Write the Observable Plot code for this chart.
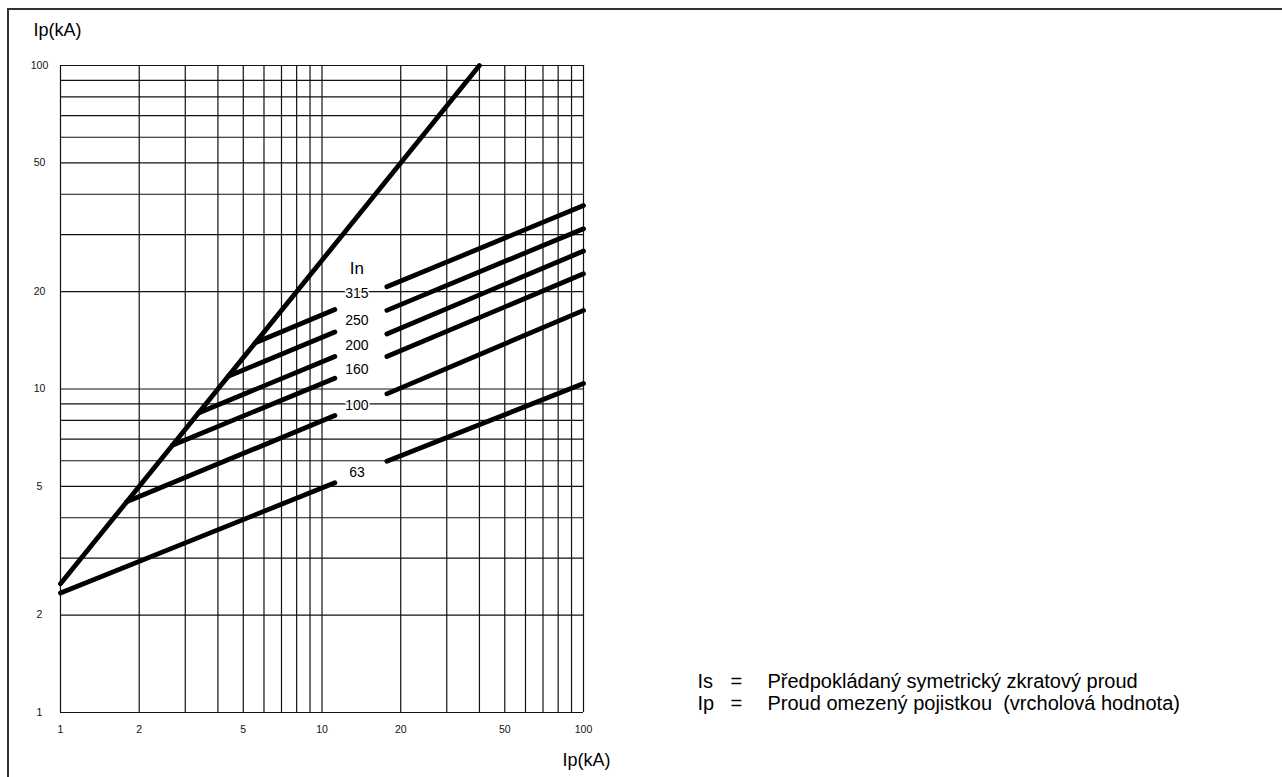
<!DOCTYPE html>
<html>
<head>
<meta charset="utf-8">
<script src="https://cdn.jsdelivr.net/npm/d3@7"></script>
<script src="https://cdn.jsdelivr.net/npm/@observablehq/plot@0.6"></script>
<style>
  html, body { margin: 0; padding: 0; background: #fff; }
  #wrap { position: relative; width: 1282px; height: 777px; overflow: hidden; }
  #border { position: absolute; left: 7px; top: 8px; width: 1290px; height: 790px;
            border-top: 2px solid #333; border-left: 2px solid #333; pointer-events: none; }
</style>
</head>
<body>
<div id="wrap"><div id="border"></div></div>
<script>
// ---- data ----
const ratings   = ["63", "100", "160", "200", "250", "315"];
const startIs   = [1, 1.79, 2.68, 3.37, 4.38, 5.56];
const startIp   = [2.34, 4.48, 6.7, 8.43, 10.95, 13.9];
const gapLeftIs = [11.2, 11.2, 11.2, 11.2, 11.2, 11.2];
const gapLeftIp = [5.13, 8.28, 10.8, 12.6, 15.0, 17.6];
const gapRightIs = [17.7, 17.7, 17.7, 17.7, 17.7, 17.7];
const gapRightIp = [5.98, 9.66, 12.6, 14.8, 17.5, 20.7];
const endIs     = [100, 100, 100, 100, 100, 100];
const endIp     = [10.4, 17.5, 22.7, 26.7, 31.3, 36.9];
const labelIs   = 13.6;
const labelIp   = [5.53, 8.89, 11.5, 13.6, 16.3, 19.7];
const headerIp  = 23.5;
const headerText = "In";

const peakIs = [1, 40];
const peakIp = [2.5, 100];

const gridValues = [1, 2, 3, 4, 5, 6, 7, 8, 9, 10, 20, 30, 40, 50, 60, 70, 80, 90, 100];
const tickValues = [1, 2, 5, 10, 20, 50, 100];
const axisTitle = "Ip(kA)";
const legendSymbols = ["Is", "Ip"];
const legendTexts = ["Předpokládaný symetrický zkratový proud", "Proud omezený pojistkou  (vrcholová hodnota)"];

// ---- build tables ----
const segments = [];
ratings.forEach((r, i) => {
  segments.push({key: r + "a", Is: startIs[i], Ip: startIp[i]});
  segments.push({key: r + "a", Is: gapLeftIs[i], Ip: gapLeftIp[i]});
  segments.push({key: r + "b", Is: gapRightIs[i], Ip: gapRightIp[i]});
  segments.push({key: r + "b", Is: endIs[i], Ip: endIp[i]});
});
const peak = peakIs.map((v, i) => ({Is: v, Ip: peakIp[i]}));
const labels = ratings.map((r, i) => ({Is: labelIs, Ip: labelIp[i], t: r}));
const legend = legendSymbols.map((s, i) => ({s, t: legendTexts[i], row: i}));

const font = "'Liberation Sans', Arial, Helvetica, sans-serif";
const rowDy = [-31, -9];
const legendFont = 20;

const legendMarks = [];
legend.forEach(d => {
  const opts = {frameAnchor: "bottom-right", textAnchor: "start", lineAnchor: "middle", dy: rowDy[d.row], fontSize: legendFont, fill: "#000"};
  legendMarks.push(Plot.text([d], {...opts, text: "s", dx: 114}));
  legendMarks.push(Plot.text([d], {...opts, text: () => "=", dx: 147}));
  legendMarks.push(Plot.text([d], {...opts, text: "t", dx: 184}));
});

const chart = Plot.plot({
  width: 1282,
  height: 777,
  marginLeft: 60,
  marginRight: 699,
  marginTop: 65,
  marginBottom: 65,
  style: {fontFamily: font, background: "transparent", color: "#111"},
  x: {type: "log", domain: [1, 100]},
  y: {type: "log", domain: [1, 100]},
  marks: [
    Plot.ruleX(gridValues, {stroke: "#111", strokeWidth: 1.2}),
    Plot.ruleY(gridValues, {stroke: "#111", strokeWidth: 1.2}),
    Plot.axisX({ticks: tickValues, tickFormat: d => String(d), tickSize: 0, tickPadding: 13, fontSize: 10.5, label: null}),
    Plot.axisY({ticks: tickValues, tickFormat: d => String(d), tickSize: 0, tickPadding: 21, textAnchor: "middle", fontSize: 10.5, label: null}),
    Plot.line(peak, {x: "Is", y: "Ip", stroke: "#000", strokeWidth: 4.8}),
    Plot.line(segments, {x: "Is", y: "Ip", z: "key", stroke: "#000", strokeWidth: 4.8}),
    Plot.text(labels, {x: "Is", y: "Ip", text: "t", fontSize: 14, fill: "#000",
      stroke: "white", strokeWidth: 3}),
    Plot.text([headerText], {x: () => labelIs, y: () => headerIp, text: d => d, fontSize: 17, fill: "#000",
      stroke: "white", strokeWidth: 3}),
    Plot.text([axisTitle], {frameAnchor: "top-left", text: d => d, textAnchor: "start", lineAnchor: "middle",
      dx: -27, dy: -35, fontSize: 18, fill: "#000"}),
    Plot.text([axisTitle], {frameAnchor: "bottom-right", text: d => d, textAnchor: "start", lineAnchor: "middle",
      dx: -21, dy: 48, fontSize: 18, fill: "#000"}),
    ...legendMarks
  ]
});
document.getElementById("wrap").prepend(chart);
</script>
</body>
</html>
